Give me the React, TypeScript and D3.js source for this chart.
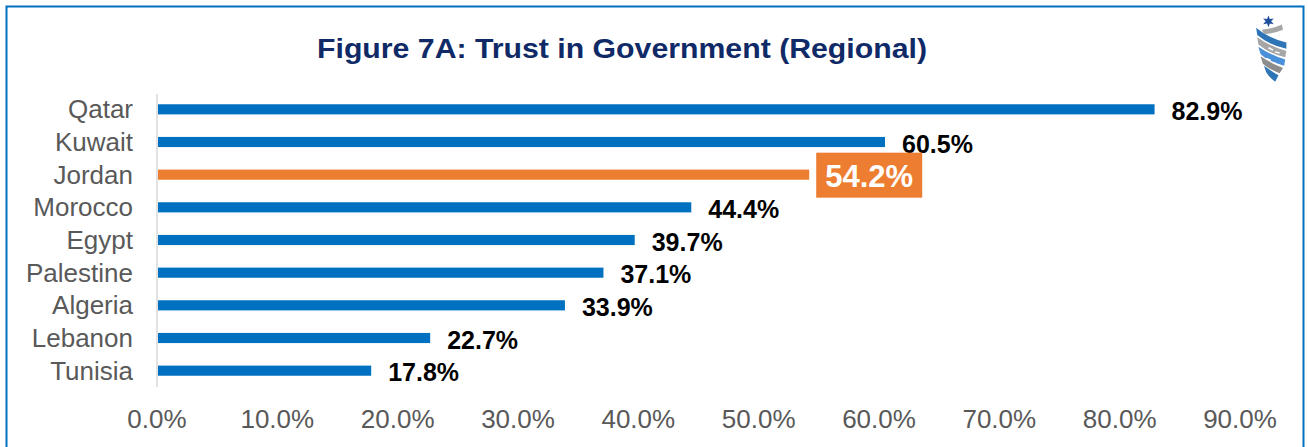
import React from "react";
import * as d3 from "d3";

const categories = ["Qatar", "Kuwait", "Jordan", "Morocco", "Egypt", "Palestine", "Algeria", "Lebanon", "Tunisia"];
const values = [82.9, 60.5, 54.2, 44.4, 39.7, 37.1, 33.9, 22.7, 17.8];
const highlight = "Jordan";
const ticks = [0, 10, 20, 30, 40, 50, 60, 70, 80, 90];
const title = "Figure 7A: Trust in Government (Regional)";

const W = 1308, H = 447;
const FONT = "'Liberation Sans', Arial, sans-serif";

export default function App() {
  const x = d3.scaleLinear().domain([0, 90]).range([157, 1240]);
  const y = d3.scaleBand().domain(categories).range([93, 387]).paddingInner(0.69).paddingOuter(0.345);
  const bw = y.bandwidth();
  const star = d3.range(12).map(i => {
    const r = i % 2 ? 2.4 : 5.5;
    const a = i * Math.PI / 6;
    return `${12 + r * Math.sin(a)},${5 - r * Math.cos(a)}`;
  }).join(" ");
  return (
    <svg width={W} height={H} style={{ position: "fixed", left: 0, top: 0, background: "#fff" }} fontFamily={FONT}>
      <rect x={0} y={0} width={W} height={H} fill="#fff" />
      <rect x={6.5} y={6.5} width={1297} height={470} fill="none" stroke="#0070C0" strokeWidth={2} />
      <text x={622} y={58} textAnchor="middle" fontSize={27} fontWeight="bold" fill="#0F2A66" textLength={610} lengthAdjust="spacingAndGlyphs">{title}</text>
      {/* logo */}
      <g transform="translate(1255,16) scale(1.12,1.06)">
        <polygon points={star} fill="#1F4E9A" />
        <path d="M1,11 Q12,21 28,25 L28,31 Q12,27 2,18 Z" fill="#2E75B6" />
        <path d="M6,13 Q16,12 24,8 L25,13 Q16,17 8,17 Z" fill="#A6A6A6" />
        <path d="M2,20 Q14,29 28,33 L27,39 Q12,35 3,27 Z" fill="#A6A6A6" />
        <path d="M3,29 Q14,37 27,41 L26,47 Q12,43 5,36 Z" fill="#4A90D9" />
        <path d="M5,38 Q15,45 25,49 L22,54 Q12,50 7,45 Z" fill="#8C8C8C" />
        <path d="M8,47 Q16,53 21,56 L18,62 Q12,57 10,53 Z" fill="#2E75B6" />
        <path d="M12,30 L16,32 M18,34 L22,35 M10,40 L14,42 M16,44 L19,45" stroke="#fff" strokeWidth={1.5} />
      </g>
      {/* axis line */}
      <line x1={157} x2={157} y1={94} y2={387} stroke="#D9D9D9" strokeWidth={1.5} />
      {categories.map((c, i) => {
        const yc = (y(c) as number) + bw / 2;
        const isH = c === highlight;
        const v = values[i];
        return (
          <g key={c}>
            <text x={133} y={yc} dy="0.35em" textAnchor="end" fontSize={26} fill="#595959">{c}</text>
            <rect x={x(0) + 1} y={y(c)} width={x(v) - x(0) - 1} height={bw} fill={isH ? "#ED7D31" : "#0070C0"} />
            {isH ? (
              <g>
                <rect x={x(v) + 7} y={yc - 22} width={106} height={45} fill="#ED7D31" />
                <text x={x(v) + 60} y={yc + 1} dy="0.35em" textAnchor="middle" fontSize={31} fontWeight="bold" fill="#fff">{`${v.toFixed(1)}%`}</text>
              </g>
            ) : (
              <text x={x(v) + 17} y={yc + 2} dy="0.35em" fontSize={25} fontWeight="bold" fill="#000">{`${v.toFixed(1)}%`}</text>
            )}
          </g>
        );
      })}
      {ticks.map(t => (
        <text key={t} x={x(t)} y={419} dy="0.35em" textAnchor="middle" fontSize={26} fill="#595959">{`${t.toFixed(1)}%`}</text>
      ))}
    </svg>
  );
}
